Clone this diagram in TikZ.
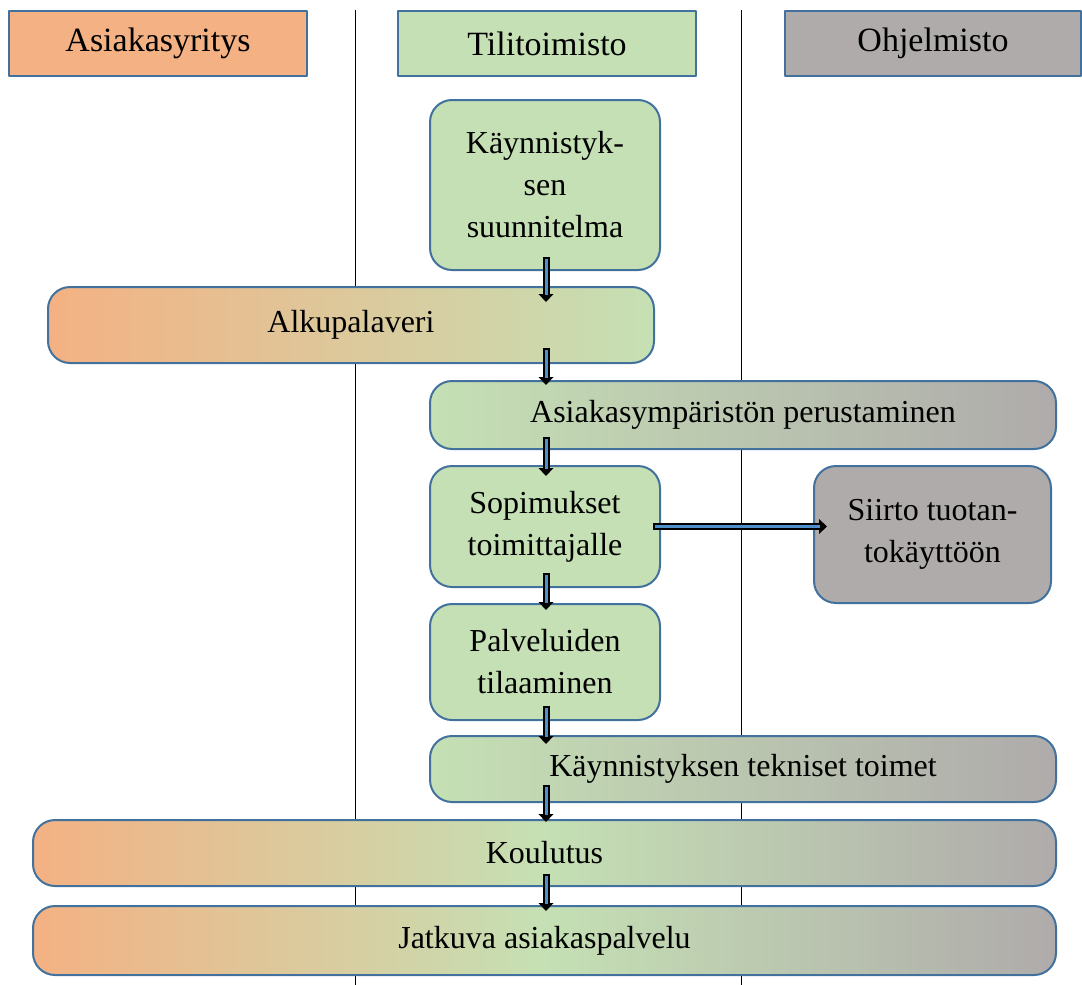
\documentclass[tikz,border=0pt]{standalone}
\usepackage{fontspec}
\setmainfont{Liberation Serif}
\usetikzlibrary{arrows.meta,calc,positioning}
\definecolor{laneOrange}{HTML}{F4B183}
\definecolor{laneGreen}{HTML}{C5E0B4}
\definecolor{laneGray}{HTML}{AFABAB}
\definecolor{laneEdge}{HTML}{41719C}
\definecolor{flowBlue}{HTML}{4F8FCC}

\begin{document}
\begin{tikzpicture}[x=1pt,y=-1pt,line join=round]
\useasboundingbox (0,0) rectangle (1082,985);
\tikzset{lanehead/.style={draw=laneEdge,line width=2pt,minimum height=65pt,inner sep=0pt,font=\fontsize{34}{40}\selectfont},
  box/.style={draw=laneEdge,line width=2pt,rounded corners=22pt,inner sep=0pt,align=center,font=\fontsize{32}{42}\selectfont},
  stepbox/.style={box,fill=laneGreen},
  sysbox/.style={box,fill=laneGray},
  flow/.style={draw=flowBlue,line width=3pt,line cap=butt,shorten >=7pt,shorten <=1.5pt,
    preaction={draw=black,line width=7pt,shorten >=0pt,shorten <=0pt,-{Triangle[length=8pt,width=15pt,line width=0pt]}}}}
% lanes
\draw[black,line width=1pt] (355,10) -- (355,985);
\draw[black,line width=1pt] (741,10) -- (741,985);
\node[lanehead,fill=laneOrange,minimum width=298pt] (hasiakas) at (158,43.5) {Asiakasyritys};
\node[lanehead,fill=laneGreen,minimum width=298pt] (htili) at (547,43.5) {Tilitoimisto};
\node[lanehead,fill=laneGray,minimum width=296pt] (hohjelma) at (933,43.5) {Ohjelmisto};
% steps
\node[stepbox,minimum width=230pt,minimum height=170pt] (suunn) at (545,185) {Käynnistyk-\\sen\\suunnitelma};
\node[box,left color=laneOrange,right color=laneGreen,minimum width=606pt,minimum height=76pt] (alku) at (351,325) {Alkupalaveri};
\node[box,left color=laneGreen,right color=laneGray,minimum width=626pt,minimum height=68pt] (ymp) at (743,415) {Asiakasympäristön perustaminen};
\node[stepbox,minimum width=230pt,minimum height=121pt] (sopim) at (545,526.5) {Sopimukset\\toimittajalle};
\node[sysbox,minimum width=237pt,minimum height=137pt] (siirto) at (932.5,534.5) {Siirto tuotan-\\tokäyttöön};
\node[stepbox,minimum width=230pt,minimum height=116pt] (palv) at (545,662) {Palveluiden\\tilaaminen};
\node[box,left color=laneGreen,right color=laneGray,minimum width=626pt,minimum height=66pt] (tekn) at (743,769) {Käynnistyksen tekniset toimet};
\node[box,left color=laneOrange,right color=laneGray,middle color=laneGreen,minimum width=1023pt,minimum height=66pt] (koul) at (544.5,853) {Koulutus};
\node[box,left color=laneOrange,right color=laneGray,middle color=laneGreen,minimum width=1023pt,minimum height=69pt] (jatk) at (544.5,940.5) {Jatkuva asiakaspalvelu};
% arrows
\coordinate (spine) at (546,0);
\draw[flow] ($(suunn.south -| spine)+(0,-14)$) -- ($(alku.north -| spine)+(0,16)$);
\draw[flow] ($(alku.south -| spine)+(0,-16)$) -- ($(ymp.north -| spine)+(0,5)$);
\draw[flow] ($(ymp.south -| spine)+(0,-13)$) -- ($(sopim.north -| spine)+(0,11)$);
\draw[flow] ($(sopim.south -| spine)+(0,-15)$) -- ($(palv.north -| spine)+(0,7)$);
\draw[flow] ($(palv.south -| spine)+(0,-15)$) -- ($(tekn.north -| spine)+(0,9)$);
\draw[flow] ($(tekn.south -| spine)+(0,-18)$) -- ($(koul.north -| spine)+(0,3)$);
\draw[flow] ($(koul.south -| spine)+(0,-13)$) -- ($(jatk.north -| spine)+(0,6)$);
\draw[flow] ($(sopim.east)+(-8,0)$) -- ($(siirto.west |- sopim.east)+(14,0)$);
\end{tikzpicture}
\end{document}
